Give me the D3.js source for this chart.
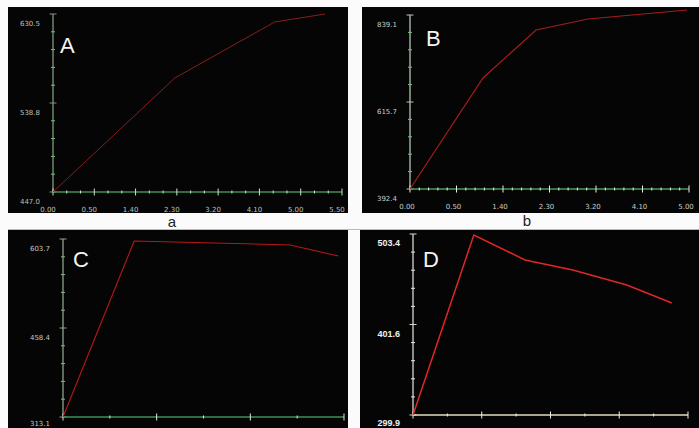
<!DOCTYPE html>
<html><head><meta charset="utf-8">
<script src="https://cdn.jsdelivr.net/npm/d3@7"></script>
<style>html,body{margin:0;padding:0;background:#fbfbfb;}svg{display:block;}</style>
</head><body>
<svg id="c" width="699" height="428"></svg>
<script>
// ---- data ----
// x positions are given in units of the (evenly spaced) major tick positions
const aXTickLabels = ["0.00","0.50","1.40","2.30","3.20","4.10","5.00","5.50"];
const aYTicks = [447.0, 538.8, 630.5];
const aX = [0, 2.95, 5.37, 6.59];
const aY = [447.0, 564.5, 622.3, 630.5];

const bXTickLabels = ["0.00","0.50","1.40","2.30","3.20","4.10","5.00"];
const bYTicks = [392.4, 615.7, 839.1];
const bX = [0, 1.57, 2.71, 3.83, 5.96];
const bY = [392.4, 677.4, 800.6, 828.8, 851.9];

const cXTickCount = 3;
const cYTicks = [313.1, 458.4, 603.7];
const cX = [0, 0.76, 2.425, 2.94];
const cY = [313.1, 600.5, 594.0, 576.0];

const dXTickCount = 4;
const dYTicks = [299.9, 401.6, 503.4];
const dX = [0, 0.885, 1.63, 2.325, 3.11, 3.765];
const dY = [299.9, 502.3, 474.2, 462.9, 446.1, 425.8];

const panelLetters = ["A","B","C","D"];
const captions = ["a","b"];

// ---- drawing ----
const svg = d3.select("#c");
svg.append("rect").attr("width",699).attr("height",428).attr("fill","#fbfbfb");

const panels = [
  {letter:panelLetters[0], box:[8,7,348,213], xr:[53,342], yr:[192,14], n:aXTickLabels.length-1, labels:aXTickLabels, minor:3,
   yt:aYTicks, xs:aX, ys:aY, line:"#8a1c1c", lw:1, axisY:"#7f9a82", axisX:"#3f8f55", tick:"#d0e0d0", txt:"#b8c2b8", fs:7, bold:false, letterPos:[60,53], xlOff:-5},
  {letter:panelLetters[1], box:[362,7,699,213], xr:[410,689], yr:[189,15], n:bXTickLabels.length-1, labels:bXTickLabels, minor:5,
   yt:bYTicks, xs:bX, ys:bY, line:"#a51c1c", lw:1.2, axisY:"#b5c5b5", axisX:"#4a9a55", tick:"#e8f0e0", txt:"#c8ccc8", fs:7, bold:false, letterPos:[426,46], xlOff:-3},
  {letter:panelLetters[2], box:[8,230,348,428], xr:[63,344], yr:[417,239], n:cXTickCount, labels:null, minor:2,
   yt:cYTicks, xs:cX, ys:cY, line:"#b81818", lw:1.1, axisY:"#8fa592", axisX:"#3f8f55", tick:"#dde8dd", txt:"#c0c8c0", fs:7, bold:false, letterPos:[73,267], xlOff:0},
  {letter:panelLetters[3], box:[360,230,699,428], xr:[413,688], yr:[415,234], n:dXTickCount, labels:null, minor:2,
   yt:dYTicks, xs:dX, ys:dY, line:"#e02626", lw:1.5, axisY:"#d8d8d0", axisX:"#e2dcc0", tick:"#f0f0e8", txt:"#f0f0f0", fs:9, bold:true, letterPos:[423,267], xlOff:0}
];

panels.forEach(p => {
  const g = svg.append("g");
  g.append("rect").attr("x",p.box[0]).attr("y",p.box[1])
    .attr("width",p.box[2]-p.box[0]).attr("height",p.box[3]-p.box[1]).attr("fill","#050505");

  const x = d3.scaleLinear().domain([0,p.n]).range(p.xr);
  const y = d3.scaleLinear().domain([p.yt[0], p.yt[2]]).range(p.yr);

  // y axis line + ticks
  g.append("line").attr("x1",p.xr[0]).attr("x2",p.xr[0]).attr("y1",p.yr[0]).attr("y2",p.yr[1])
    .attr("stroke",p.axisY).attr("stroke-width",1.3);
  const yMinor = d3.range(0,11).map(i => p.yt[0] + (p.yt[2]-p.yt[0])*i/10);
  g.selectAll(null).data(yMinor).join("line")
    .attr("x1",(d,i)=>p.xr[0]-(i%5===0?3.5:2)).attr("x2",(d,i)=>p.xr[0]+(i%5===0?3.5:2))
    .attr("y1",d=>y(d)).attr("y2",d=>y(d))
    .attr("stroke",(d,i)=>i%5===0?p.axisY:(p.bold?"#e8e8e0":"#7ac07a")).attr("stroke-width",1);
  g.selectAll(null).data(p.yt).join("text")
    .attr("x",p.xr[0]-13).attr("y",d=>Math.min(y(d)+12, 426))
    .attr("text-anchor","end")
    .attr("font-family", p.bold ? "Liberation Sans, Arial, sans-serif" : "DejaVu Sans, sans-serif")
    .attr("font-weight", p.bold ? "bold" : "normal")
    .attr("font-size",p.fs).attr("fill",p.txt)
    .text(d=>d.toFixed(1));

  // x axis line + ticks
  g.append("line").attr("x1",p.xr[0]).attr("x2",p.xr[1]).attr("y1",p.yr[0]).attr("y2",p.yr[0])
    .attr("stroke",p.axisX).attr("stroke-width",1.3);
  const xMinor = d3.range(0,p.n*p.minor+1).map(i=>i/p.minor);
  g.selectAll(null).data(xMinor).join("line")
    .attr("x1",d=>x(d)).attr("x2",d=>x(d))
    .attr("y1",(d,i)=>p.yr[0]-(i%p.minor===0?3.5:1.5)).attr("y2",(d,i)=>p.yr[0]+(i%p.minor===0?3.5:1.5))
    .attr("stroke",p.tick).attr("stroke-width",1);
  if (p.labels) {
    g.selectAll(null).data(p.labels).join("text")
      .attr("x",(d,i)=>x(i)+p.xlOff).attr("y",p.yr[0]+20)
      .attr("text-anchor","middle").attr("font-family","DejaVu Sans, sans-serif")
      .attr("font-size",p.fs).attr("fill",p.txt).text(d=>d);
  }

  // data line
  const pts = p.xs.map((v,i)=>[v,p.ys[i]]);
  g.append("path").datum(pts)
    .attr("d", d3.line().x(d=>x(d[0])).y(d=>y(d[1])))
    .attr("fill","none").attr("stroke",p.line).attr("stroke-width",p.lw);

  // panel letter
  g.append("text").attr("x",p.letterPos[0]).attr("y",p.letterPos[1])
    .attr("font-family","Liberation Sans, Arial, sans-serif").attr("font-size",22)
    .attr("fill","#f4f4f4").text(p.letter);
});

// captions
svg.append("text").attr("x",172).attr("y",227).attr("text-anchor","middle")
  .attr("font-family","Liberation Sans, Arial, sans-serif").attr("font-size",15).attr("fill","#222").text(captions[0]);
svg.append("text").attr("x",527).attr("y",226).attr("text-anchor","middle")
  .attr("font-family","Liberation Sans, Arial, sans-serif").attr("font-size",15).attr("fill","#222").text(captions[1]);
svg.append("line").attr("x1",8).attr("x2",699).attr("y1",229.5).attr("y2",229.5)
  .attr("stroke","#d6b48a").attr("stroke-width",1);
</script>
</body></html>
